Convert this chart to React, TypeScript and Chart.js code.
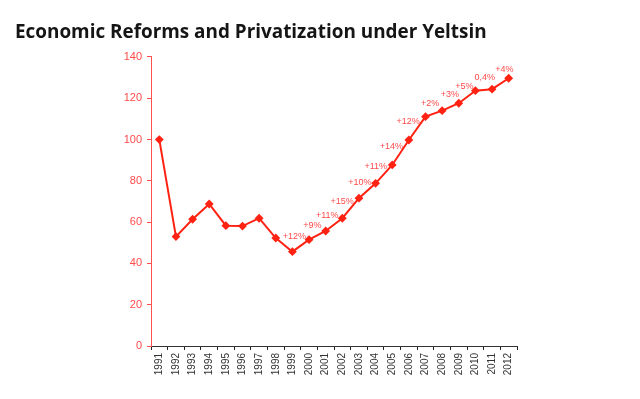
import React, { useEffect, useRef } from "react";
import { Chart, registerables } from "chart.js";

Chart.register(...registerables);

const TITLE = "Economic Reforms and Privatization under Yeltsin";

const years = [
  "1991", "1992", "1993", "1994", "1995", "1996", "1997", "1998", "1999", "2000", "2001",
  "2002", "2003", "2004", "2005", "2006", "2007", "2008", "2009", "2010", "2011", "2012",
];

const values = [
  100, 53, 61.4, 68.8, 58.3, 58.1, 61.9, 52.3, 45.7, 51.5, 55.7,
  61.9, 71.6, 78.8, 87.7, 99.8, 111.1, 114, 117.6, 123.7, 124.4, 129.7,
];

const growthLabels = [
  "", "", "", "", "", "", "", "", "", "+12%", "+9%",
  "+11%", "+15%", "+10%", "+11%", "+14%", "+12%", "+2%", "+3%", "+5%", "0,4%", "+4%",
];

const yTicks = [0, 20, 40, 60, 80, 100, 120, 140];

const RED = "#ff2212";
const LABEL_RED = "#ff4a4a";

const growthLabelPlugin = {
  id: "growthLabels",
  afterDatasetsDraw(chart: any) {
    const meta = chart.getDatasetMeta(0);
    const ctx = chart.ctx;
    ctx.save();
    ctx.font = "9px 'Liberation Sans', Arial, sans-serif";
    ctx.fillStyle = LABEL_RED;
    ctx.textAlign = "center";
    ctx.textBaseline = "middle";
    const h = 7;
    const margin = 1;
    let prev: { l: number; r: number; t: number; b: number } | null = null;
    growthLabels.forEach((txt, i) => {
      if (!txt || i === 0) return;
      const p = meta.data[i];
      const q = meta.data[i - 1];
      const mx = (p.x + q.x) / 2;
      const my = (p.y + q.y) / 2;
      const dx = p.x - q.x;
      const dy = p.y - q.y;
      const len = Math.sqrt(dx * dx + dy * dy) || 1;
      let x = mx + (dy / len) * 11;
      let y = my + (-dx / len) * 11;
      const w = ctx.measureText(txt).width;
      const box = () => ({ l: x - w / 2, r: x + w / 2, t: y - h / 2, b: y + h / 2 });
      const hits = (a: any, c: any) =>
        a.l < c.r + margin && a.r > c.l - margin && a.t < c.b + margin && a.b > c.t - margin;
      let guard = 0;
      while (prev && hits(box(), prev) && guard < 20) {
        x += 2;
        y -= 1;
        guard++;
      }
      ctx.fillText(txt, x, y);
      prev = box();
    });
    ctx.restore();
  },
};

export default function App() {
  const ref = useRef<HTMLCanvasElement>(null);

  useEffect(() => {
    if (!ref.current) return;
    const chart = new Chart(ref.current, {
      type: "line",
      data: {
        labels: years,
        datasets: [
          {
            data: values,
            borderColor: RED,
            backgroundColor: RED,
            borderWidth: 2,
            pointStyle: "rectRot",
            pointRadius: 3,
            pointBackgroundColor: RED,
            pointBorderColor: RED,
            tension: 0,
            fill: false,
          },
        ],
      },
      options: {
        responsive: false,
        animation: false,
        layout: { padding: { left: 15, right: 123, top: 0, bottom: 0 } },
        plugins: {
          legend: { display: false },
          tooltip: { enabled: false },
          title: {
            display: true,
            text: TITLE,
            align: "start",
            color: "#151515",
            font: { family: "'Open Sans', sans-serif", size: 18.9, weight: "bold", lineHeight: 1.2 },
            padding: { top: 21, bottom: 13.3 },
          },
        },
        scales: {
          x: {
            type: "category",
            offset: true,
            grid: {
              display: true,
              offset: true,
              drawOnChartArea: false,
              drawTicks: true,
              tickLength: 4,
              color: "#222",
            },
            border: { display: true, color: "#333", width: 1 },
            ticks: {
              minRotation: 90,
              maxRotation: 90,
              autoSkip: false,
              padding: 3,
              color: "#333",
              font: { family: "'Liberation Sans', Arial, sans-serif", size: 10 },
            },
            afterFit(scale: any) {
              scale.height = 53;
            },
          },
          y: {
            min: 0,
            max: 140,
            afterBuildTicks(scale: any) {
              scale.ticks = yTicks.map((v) => ({ value: v }));
            },
            grid: {
              display: true,
              drawOnChartArea: false,
              drawTicks: true,
              tickLength: 4,
              color: "#ff5050",
            },
            border: { display: true, color: "#ff5050", width: 1 },
            ticks: {
              padding: 5,
              color: LABEL_RED,
              font: { family: "'Liberation Sans', Arial, sans-serif", size: 11 },
            },
            afterFit(scale: any) {
              scale.width = 136;
            },
          },
        },
      },
      plugins: [growthLabelPlugin],
    });
    return () => chart.destroy();
  }, []);

  return (
    <div style={{ position: "fixed", left: 0, top: 0, width: 640, height: 399, background: "#fff" }}>
      <canvas ref={ref} width={640} height={399} style={{ display: "block", width: 640, height: 399 }} />
    </div>
  );
}
